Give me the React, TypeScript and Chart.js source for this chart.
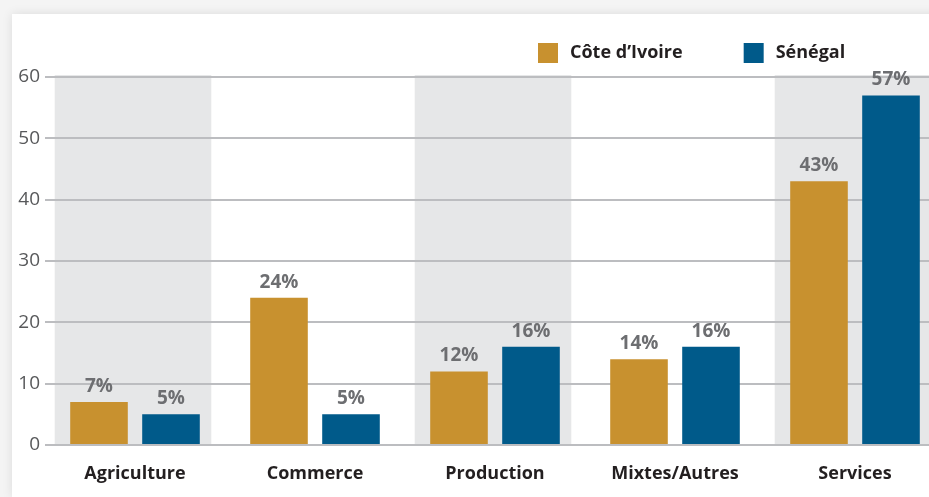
import React, { useEffect, useRef } from "react";
import { Chart, registerables } from "chart.js";

Chart.register(...registerables);

const categories = ["Agriculture", "Commerce", "Production", "Mixtes/Autres", "Services"];
const coteIvoire = [7, 24, 12, 14, 43];
const senegal = [5, 5, 16, 16, 57];
const seriesNames = ["Côte d’Ivoire", "Sénégal"];
const yTicks = [0, 10, 20, 30, 40, 50, 60];

const GOLD = "#c8912f";
const BLUE = "#005a8a";
const FONT = "'Open Sans', 'DejaVu Sans', sans-serif";

const bandsPlugin = {
  id: "bands",
  beforeDraw(chart: any) {
    const { ctx, scales } = chart;
    const x = scales.x;
    const y = scales.y;
    const step = x.getPixelForValue(1) - x.getPixelForValue(0);
    const w = step * 0.87;
    ctx.save();
    ctx.fillStyle = "#e6e7e8";
    categories.forEach((_, i) => {
      if (i % 2 === 0) {
        const c = x.getPixelForValue(i) - 2;
        ctx.fillRect(c - w / 2, y.getPixelForValue(60) - 2, w, y.getPixelForValue(0) - y.getPixelForValue(60) + 2);
      }
    });
    ctx.restore();
  },
};

const labelsPlugin = {
  id: "valueLabels",
  afterDatasetsDraw(chart: any) {
    const { ctx } = chart;
    ctx.save();
    ctx.font = `bold 19px ${FONT}`;
    ctx.fillStyle = "#6d6e71";
    ctx.textAlign = "center";
    ctx.textBaseline = "bottom";
    chart.data.datasets.forEach((ds: any, di: number) => {
      const meta = chart.getDatasetMeta(di);
      meta.data.forEach((bar: any, i: number) => {
        ctx.fillText(ds.data[i] + "%", bar.x, bar.y - 6);
      });
    });
    ctx.restore();
  },
};

const legendPlugin = {
  id: "customLegend",
  afterDraw(chart: any) {
    const { ctx, chartArea } = chart;
    ctx.save();
    ctx.font = `bold 18px ${FONT}`;
    ctx.textBaseline = "middle";
    ctx.textAlign = "left";
    let x = chartArea.right - 407;
    const yTop = 43;
    const colors = [GOLD, BLUE];
    seriesNames.forEach((name, i) => {
      ctx.fillStyle = colors[i];
      ctx.fillRect(x, yTop, 20, 20);
      ctx.fillStyle = "#231f20";
      ctx.fillText(name, x + 32, yTop + 10);
      x += 32 + ctx.measureText(name).width + 61;
    });
    ctx.restore();
  },
};

export default function App() {
  const ref = useRef<HTMLCanvasElement>(null);
  useEffect(() => {
    document.body.style.overflow = "hidden";
    const chart = new Chart(ref.current!, {
      type: "bar",
      data: {
        labels: categories,
        datasets: [
          { label: seriesNames[0], data: coteIvoire, backgroundColor: GOLD, categoryPercentage: 0.8, barPercentage: 0.8 },
          { label: seriesNames[1], data: senegal, backgroundColor: BLUE, categoryPercentage: 0.8, barPercentage: 0.8 },
        ],
      },
      options: {
        animation: false,
        responsive: true,
        maintainAspectRatio: false,
        layout: { padding: { top: 77, left: 0, right: 0, bottom: 0 } },
        plugins: { legend: { display: false }, tooltip: { enabled: false } },
        scales: {
          x: {
            grid: { display: false },
            border: { display: false },
            ticks: { color: "#231f20", font: { family: FONT, size: 18, weight: "bold" }, padding: 10 },
            afterFit(scale: any) { scale.height = 52; },
          },
          y: {
            min: 0,
            max: 60,
            afterBuildTicks(scale: any) { scale.ticks = yTicks.map((v) => ({ value: v })); },
            grid: { color: "#bcbdc0", lineWidth: 2, drawTicks: false },
            border: { display: false },
            ticks: { color: "#58595b", font: { family: FONT, size: 19 }, padding: 5 },
            afterFit(scale: any) { scale.width = 45; },
          },
        },
      },
      plugins: [bandsPlugin, labelsPlugin, legendPlugin],
    });
    return () => chart.destroy();
  }, []);
  return (
    <div style={{ position: "fixed", left: 0, top: 0, width: 945, height: 497, background: "#f4f4f4" }}>
      <div style={{ position: "absolute", left: 12, top: 14, right: 0, bottom: 0, background: "#fff", boxShadow: "0 0 10px rgba(0,0,0,0.10)" }} />
      <div style={{ position: "absolute", left: 0, top: 0, width: 945, height: 497 }}>
        <canvas ref={ref} />
      </div>
    </div>
  );
}
